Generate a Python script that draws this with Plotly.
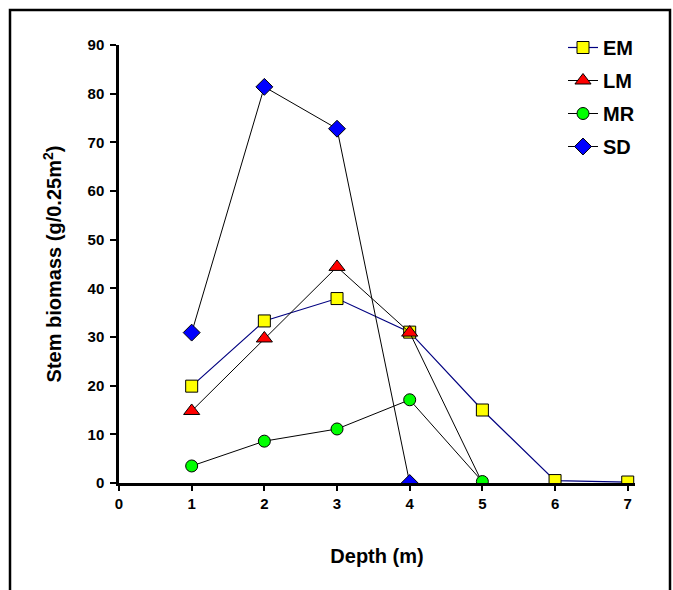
import plotly.graph_objects as go

depth_em = [1, 2, 3, 4, 5, 6, 7]
em = [19.9, 33.3, 37.9, 31.0, 15.0, 0.5, 0.2]
depth_lm = [1, 2, 3, 4, 5]
lm = [14.8, 29.7, 44.4, 30.9, 0.0]
depth_mr = [1, 2, 3, 4, 5]
mr = [3.5, 8.6, 11.1, 17.1, 0.3]
depth_sd = [1, 2, 3, 4]
sd = [30.9, 81.4, 72.8, 0.0]

x_ticks = [0, 1, 2, 3, 4, 5, 6, 7]
y_ticks = [0, 10, 20, 30, 40, 50, 60, 70, 80, 90]

FONT = "Arial, Liberation Sans, sans-serif"

fig = go.Figure()
fig.add_trace(go.Scatter(x=depth_em, y=em, name="EM", mode="lines+markers", legendgroup="a",
                         line=dict(color="#000080", width=1.2),
                         marker=dict(symbol="square", size=12, color="#ffff00",
                                     line=dict(color="black", width=1))))
fig.add_trace(go.Scatter(x=depth_lm, y=lm, name="LM", mode="lines+markers", legendgroup="b",
                         line=dict(color="black", width=1),
                         marker=dict(symbol="triangle-up", size=14, color="#ff0000",
                                     line=dict(color="black", width=1))))
fig.add_trace(go.Scatter(x=depth_mr, y=mr, name="MR", mode="lines+markers", legendgroup="c",
                         line=dict(color="black", width=1),
                         marker=dict(symbol="circle", size=12, color="#00ff00",
                                     line=dict(color="black", width=1))))
fig.add_trace(go.Scatter(x=depth_sd, y=sd, name="SD", mode="lines+markers", legendgroup="d",
                         line=dict(color="black", width=1),
                         marker=dict(symbol="diamond", size=13, color="#0000ff",
                                     line=dict(color="black", width=1))))

W, H = 673, 590
L, T = 119, 45
R = W - 635
B = H - 483
pw, ph = W - L - R, H - T - B

def px(x):
    return (x - L) / pw

def py(y):
    return 1 - (y - T) / ph

fig.add_shape(type="rect", xref="paper", yref="paper",
              x0=px(10), x1=px(670), y0=py(620), y1=py(10),
              line=dict(color="black", width=2.5), fillcolor="rgba(0,0,0,0)", layer="below")

fig.update_layout(
    width=W, height=H,
    margin=dict(l=L, r=R, t=T, b=B, autoexpand=False),
    paper_bgcolor="white", plot_bgcolor="white",
    font=dict(family=FONT, color="black", size=15, weight="bold"),
    showlegend=True,
    legend=dict(x=px(563), y=py(28), xanchor="left", yanchor="top",
                font=dict(size=20, family=FONT, weight="bold"),
                bgcolor="rgba(0,0,0,0)", tracegroupgap=4, itemwidth=30),
    xaxis=dict(range=[0, 7.1], tickvals=x_ticks, ticktext=[str(v) for v in x_ticks],
               showline=True, linecolor="black", linewidth=3, showgrid=False, zeroline=False,
               ticks="outside", ticklen=5, tickwidth=2, tickcolor="black",
               tickfont=dict(size=15, family=FONT, weight="bold"),
               title=dict(text="Depth (m)", font=dict(size=20, family=FONT, weight="bold"), standoff=38)),
    yaxis=dict(range=[0, 90], tickvals=y_ticks, ticktext=[str(v) for v in y_ticks],
               showline=True, linecolor="black", linewidth=2.5, showgrid=False, zeroline=False,
               ticks="outside", ticklen=6, tickwidth=2, tickcolor="black", ticklabelstandoff=3,
               tickfont=dict(size=15, family=FONT, weight="bold"),
               title=dict(text="Stem biomass (g/0.25m<sup>2</sup>)",
                          font=dict(size=20, family=FONT, weight="bold"), standoff=21)),
)

fig.write_html("out.html", config={"displayModeBar": False},
               post_script="document.body.style.margin='0';document.body.style.overflow='hidden';")
